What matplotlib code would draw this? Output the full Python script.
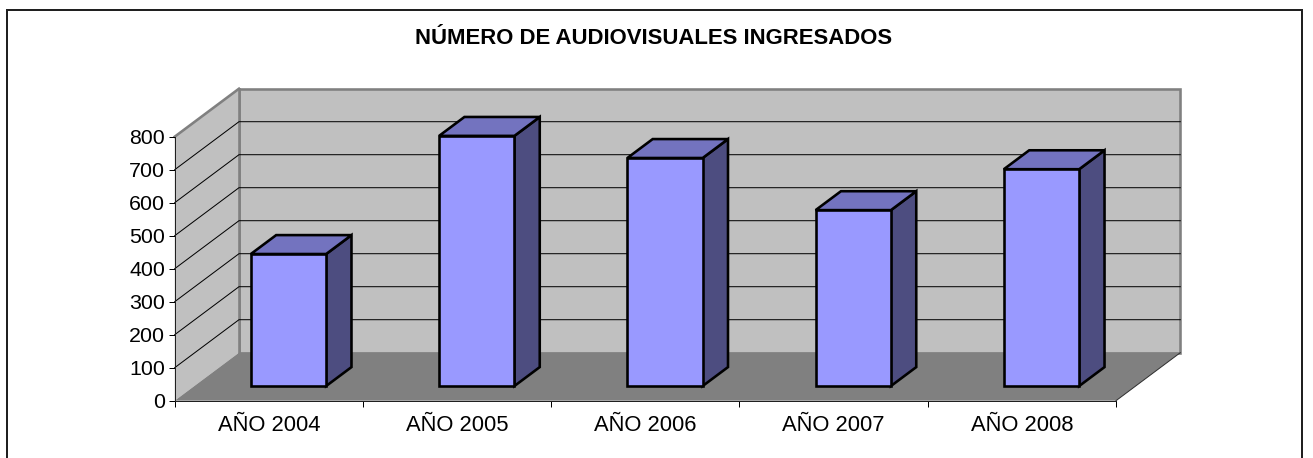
#!/usr/bin/env python
# -*- coding: utf-8 -*-
import matplotlib
matplotlib.use('Agg')

import matplotlib.pyplot as plt
from matplotlib.lines import Line2D
from matplotlib.patches import Polygon

years = ['AÑO 2004', 'AÑO 2005', 'AÑO 2006', 'AÑO 2007', 'AÑO 2008']
values = [400, 758, 691, 533, 657]
y_ticks = [0, 100, 200, 300, 400, 500, 600, 700, 800]
title = 'NÚMERO DE AUDIOVISUALES INGRESADOS'

W, H = 1313, 458
PX = 0.72  # one pixel in points at dpi 100

# depth of the box, in data units
DEPTH_X = 64.3 / 188.3
DEPTH_Y = 48.0 / 0.33
BAR_W = 0.4
BAR_T0, BAR_T1 = 0.306, 0.70

WALL = '#c0c0c0'
FLOOR = '#808080'
FRONT = '#9999ff'
TOP = '#7373bf'
SIDE = '#4d4d80'


def pr(x, y, t=0.0):
    """ shift a data point t of the way to the back of the box """
    return (x + t * DEPTH_X, y + t * DEPTH_Y)


def poly(ax, pts, color, edge='none', lw=0.0, z=1):
    ax.add_patch(Polygon(pts, closed=True, facecolor=color, edgecolor=edge,
                         linewidth=lw, clip_on=False, zorder=z,
                         joinstyle='miter'))


def draw_box(ax):
    n = len(years)
    top = y_ticks[-1]
    poly(ax, [pr(0, 0, 1), pr(n, 0, 1), pr(n, top, 1), pr(0, top, 1)], WALL,
         FLOOR, 2.6 * PX)
    poly(ax, [pr(0, 0), pr(0, 0, 1), pr(0, top, 1), pr(0, top)], WALL)
    poly(ax, [pr(0, 0), pr(n, 0), pr(n, 0, 1), pr(0, 0, 1)], FLOOR, z=1.2)

    # grey outline of the left wall
    ax.plot(*zip(pr(0, top), pr(0, top, 1)), color=FLOOR, lw=2.6 * PX,
            clip_on=False, zorder=1.3)
    ax.plot(*zip(pr(0, 0, 1), pr(0, top, 1)), color=FLOOR, lw=2.6 * PX,
            clip_on=False, zorder=1.3)
    ax.plot(*zip(pr(n, 0), pr(n, 0, 1)), color='#303030', lw=1 * PX,
            clip_on=False, zorder=1.3)

    for v in y_ticks[1:-1]:
        ax.plot(*zip(pr(0, v), pr(0, v, 1), pr(n, v, 1)), color='black',
                lw=1 * PX, clip_on=False, zorder=1.4, solid_joinstyle='miter')


def draw_bars(ax):
    for i, v in enumerate(values):
        x0 = i + 0.5 - BAR_W / 2
        x1 = i + 0.5 + BAR_W / 2
        lw = 2.6 * PX
        poly(ax, [pr(x1, 0, BAR_T0), pr(x1, 0, BAR_T1), pr(x1, v, BAR_T1),
                  pr(x1, v, BAR_T0)], SIDE, 'black', lw, z=2)
        poly(ax, [pr(x0, v, BAR_T0), pr(x1, v, BAR_T0), pr(x1, v, BAR_T1),
                  pr(x0, v, BAR_T1)], TOP, 'black', lw, z=2)
        poly(ax, [pr(x0, 0, BAR_T0), pr(x1, 0, BAR_T0), pr(x1, v, BAR_T0),
                  pr(x0, v, BAR_T0)], FRONT, 'black', lw, z=2)


def main():
    plt.rcParams['font.family'] = ['Liberation Sans', 'DejaVu Sans']

    fig = plt.figure(figsize=(W / 100, H / 100), dpi=100)
    ax = fig.add_axes([174.7 / W, (H - 400.7) / H, 941.3 / W, 264.0 / H])
    ax.patch.set_visible(False)
    ax.set_xlim(0, len(years))
    ax.set_ylim(0, y_ticks[-1])

    draw_box(ax)
    draw_bars(ax)

    for s in ('top', 'right'):
        ax.spines[s].set_visible(False)
    for s in ('left', 'bottom'):
        ax.spines[s].set_linewidth(1 * PX)
        ax.spines[s].set_color('#202020')

    ax.set_yticks(y_ticks)
    ax.set_xticks(range(len(years) + 1))
    ax.set_xticklabels([])
    ax.set_xticks([i + 0.5 for i in range(len(years))], minor=True)
    ax.set_xticklabels(years, minor=True)
    ax.tick_params(axis='y', length=4, width=1 * PX, pad=3, labelsize=15.4)
    ax.tick_params(axis='x', which='major', length=4, width=1 * PX)
    ax.tick_params(axis='x', which='minor', length=0, pad=10.5, labelsize=15.8)

    fig.text(653.5 / W, (H - 38.5) / H, title, fontsize=15.9, fontweight='bold',
             ha='center', va='center')

    # chart frame, runs off the bottom of the picture
    left, right, top = 6.5 / W, 1301.7 / W, (H - 9.5) / H
    fig.add_artist(Line2D([left, left, right, right], [0, top, top, 0],
                          color='#202020', lw=2 * PX,
                          solid_joinstyle='miter'))

    fig.savefig('out.png', dpi=100)
    plt.close(fig)


if __name__ == "__main__":
    main()
